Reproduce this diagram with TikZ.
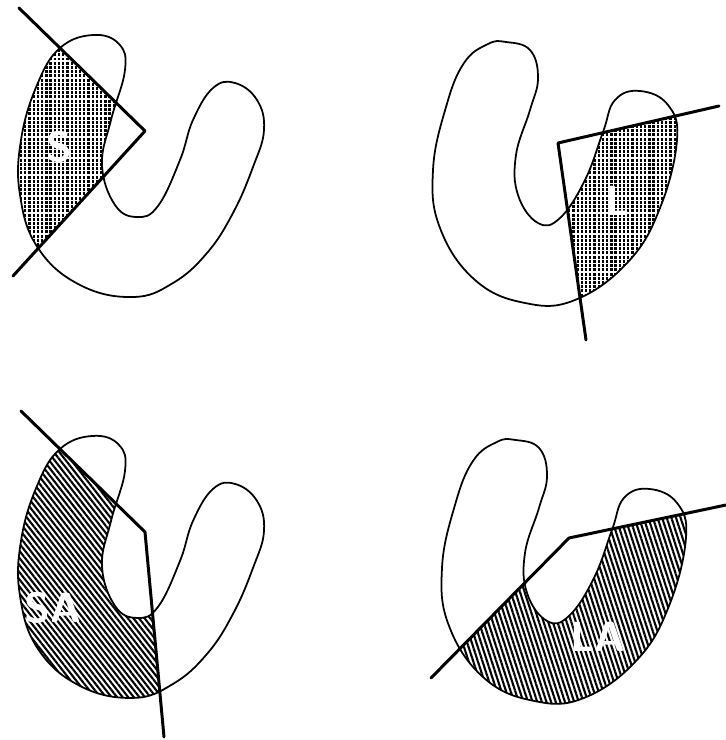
\documentclass[tikz,border=0pt]{standalone}
\usepackage{xcolor}
\usepackage{tikz}
\usetikzlibrary{patterns.meta}

\newcommand{\leftbean}{plot[smooth cycle, tension=0.7] coordinates {(60,48) (93,35) (119,44) (125,70) (111,120) (102,165) (115,205) (137,217) (158,206) (180,160) (193,120) (213,88) (235,83) (257,100) (264,130) (253,167) (233,213) (207,253) (173,283) (133,297) (80,285) (38,248) (20,195) (21,140) (37,85)}}
\newcommand{\rightbean}{plot[smooth cycle, tension=0.7] coordinates {(464,63) (446,107) (433,170) (440,228) (475,280) (525,303) (575,300) (628,262) (660,208) (677,140) (668,105) (640,91) (615,100) (603,132) (585,180) (560,218) (538,223) (518,195) (516,155) (530,110) (538,78) (530,50) (506,42) (488,44)}}

\begin{document}
\begin{tikzpicture}[
    x=0.02cm, y=-0.02cm,
    outline/.style={draw, line width=1pt},
    bound/.style={draw, line width=1.7pt, line cap=round, line join=round},
    gridfill/.style={preaction={pattern={Lines[angle=90,distance=2.4pt,line width=1.3pt]}, pattern color=black}, pattern={Lines[angle=0,distance=2.4pt,line width=0.7pt]}, pattern color=white},
    slashfillsa/.style={pattern={Lines[angle=-52,distance=2.5pt,line width=1.2pt]}, pattern color=black},
    slashfillla/.style={pattern={Lines[angle=-72,distance=2.5pt,line width=1.2pt]}, pattern color=black},
    tag/.style={text=white, font=\fontsize{24}{24}\selectfont\sffamily\bfseries, inner sep=0pt}
]
\useasboundingbox (0,0) rectangle (726,740);

\coordinate (sstart) at (19,8);
\coordinate (sapex) at (145,131);
\coordinate (send) at (13,276);
\coordinate (lstart) at (719,106);
\coordinate (lapex) at (558,143);
\coordinate (lend) at (586,340);
\coordinate (sastart) at (21,411);
\coordinate (saapex) at (145,532);
\coordinate (saend) at (164,737);
\coordinate (lastart) at (726,505);
\coordinate (laapex) at (569,538);
\coordinate (laend) at (431,678);

% S
\begin{scope}
\clip (sstart) -- (sapex) -- (send) -- (0,276) -- (0,8) -- cycle;
\path[gridfill] \leftbean;
\end{scope}
\draw[outline] \leftbean;
\draw[bound] (sstart) -- (sapex) -- (send);
\node[tag] (stag) at (59,147) {S};

% L
\begin{scope}
\clip (lstart) -- (lapex) -- (lend) -- (726,340) -- (726,106) -- cycle;
\path[gridfill] \rightbean;
\end{scope}
\draw[outline] \rightbean;
\draw[bound] (lstart) -- (lapex) -- (lend);
\node[tag] (ltag) at (618,201) {L};

% SA
\begin{scope}
\clip (sastart) -- (saapex) -- (saend) -- (0,737) -- (0,411) -- cycle;
\begin{scope}[yshift=-8.02cm]
\path[slashfillsa] \leftbean;
\end{scope}
\end{scope}
\begin{scope}[yshift=-8.02cm]
\draw[outline] \leftbean;
\end{scope}
\draw[bound] (sastart) -- (saapex) -- (saend);
\node[tag] (satag) at (53,608) {SA};

% LA
\begin{scope}
\clip (lastart) -- (laapex) -- (laend) -- (431,740) -- (726,740) -- cycle;
\begin{scope}[xshift=0.18cm, yshift=-7.96cm]
\path[slashfillla] \rightbean;
\end{scope}
\end{scope}
\begin{scope}[xshift=0.18cm, yshift=-7.96cm]
\draw[outline] \rightbean;
\end{scope}
\draw[bound] (lastart) -- (laapex) -- (laend);
\node[tag] (latag) at (598,637) {LA};
\end{tikzpicture}
\end{document}
